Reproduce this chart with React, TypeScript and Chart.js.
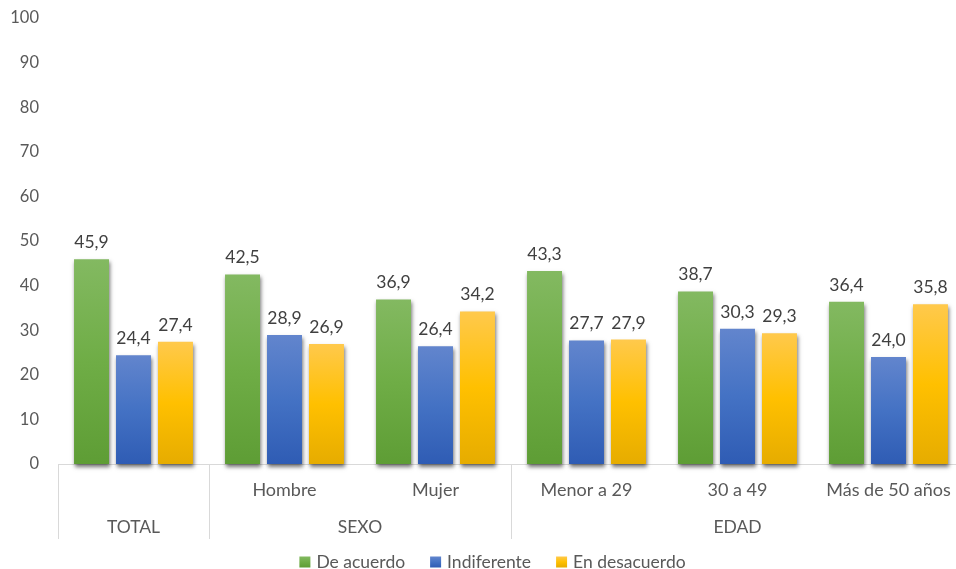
import React, { useEffect, useRef } from "react";
import { Chart, registerables } from "chart.js";

Chart.register(...registerables);

const categories = ["", "Hombre", "Mujer", "Menor a 29", "30 a 49", "Más de 50 años"];
const groups = [
  { label: "TOTAL", start: 0, end: 0 },
  { label: "SEXO", start: 1, end: 2 },
  { label: "EDAD", start: 3, end: 5 },
];
const seriesNames = ["De acuerdo", "Indiferente", "En desacuerdo"];
const deAcuerdo = [45.9, 42.5, 36.9, 43.3, 38.7, 36.4];
const indiferente = [24.4, 28.9, 26.4, 27.7, 30.3, 24.0];
const enDesacuerdo = [27.4, 26.9, 34.2, 27.9, 29.3, 35.8];

const gradientStops = [
  ["#83b961", "#6fad46", "#5e9d35"],
  ["#6285cd", "#4472c4", "#2f5cb4"],
  ["#ffc94c", "#ffc000", "#e6ac00"],
];

const FONT = "Lato, 'Open Sans', sans-serif";
const LIGHT = "#d9d9d9";

function makeGradient(ctx: CanvasRenderingContext2D, top: number, bottom: number, idx: number) {
  const g = ctx.createLinearGradient(0, top, 0, bottom);
  const s = gradientStops[idx];
  g.addColorStop(0, s[0]);
  g.addColorStop(0.5, s[1]);
  g.addColorStop(1, s[2]);
  return g;
}

const shadowPlugin = {
  id: "barShadow",
  beforeDatasetDraw(chart: any) {
    const ctx = chart.ctx;
    ctx.save();
    ctx.shadowColor = "rgba(0,0,0,0.55)";
    ctx.shadowBlur = 4;
    ctx.shadowOffsetX = 1;
    ctx.shadowOffsetY = 3;
  },
  afterDatasetDraw(chart: any) {
    chart.ctx.restore();
  },
};

const labelsPlugin = {
  id: "extras",
  afterDatasetsDraw(chart: any) {
    const ctx = chart.ctx;
    ctx.save();
    ctx.font = `17.5px ${FONT}`;
    ctx.fillStyle = "#404040";
    ctx.textAlign = "center";
    ctx.textBaseline = "alphabetic";
    chart.data.datasets.forEach((ds: any, i: number) => {
      const meta = chart.getDatasetMeta(i);
      meta.data.forEach((bar: any, j: number) => {
        const v = ds.data[j];
        ctx.fillText(v.toFixed(1).replace(".", ","), bar.x, bar.y - 11);
      });
    });
    ctx.restore();
  },
  afterDraw(chart: any) {
    const ctx = chart.ctx;
    const xs = chart.scales.x;
    const area = chart.chartArea;
    const n = categories.length;
    const w = (area.right - area.left) / n;
    ctx.save();
    ctx.strokeStyle = LIGHT;
    ctx.lineWidth = 1;
    const bounds = [0, ...groups.map((g) => g.end + 1)];
    bounds.forEach((b) => {
      const x = Math.round(area.left + b * w) + 0.5;
      ctx.beginPath();
      ctx.moveTo(x, area.bottom);
      ctx.lineTo(x, area.bottom + 75);
      ctx.stroke();
    });
    ctx.font = `17.5px ${FONT}`;
    ctx.fillStyle = "#595959";
    ctx.textAlign = "center";
    ctx.textBaseline = "middle";
    groups.forEach((g) => {
      const cx = (xs.getPixelForValue(g.start) + xs.getPixelForValue(g.end)) / 2;
      ctx.fillText(g.label, cx, area.bottom + 63);
    });
    ctx.font = `17.5px ${FONT}`;
    const box = 11;
    const gapText = 6;
    const gapItem = 25;
    const widths = seriesNames.map((s) => ctx.measureText(s).width);
    const total = widths.reduce((a, b) => a + b, 0) + seriesNames.length * (box + gapText) + (seriesNames.length - 1) * gapItem;
    let x = chart.width / 2 - total / 2;
    const cy = 562;
    ctx.textAlign = "left";
    seriesNames.forEach((s, i) => {
      ctx.fillStyle = makeGradient(ctx, cy - 5.5, cy + 5.5, i);
      ctx.fillRect(x, cy - 5.5, box, box);
      x += box + gapText;
      ctx.fillStyle = "#595959";
      ctx.fillText(s, x, cy);
      x += widths[i] + gapItem;
    });
    ctx.restore();
  },
};

export default function App() {
  const ref = useRef<HTMLCanvasElement | null>(null);
  useEffect(() => {
    if (!ref.current) return;
    const values = [deAcuerdo, indiferente, enDesacuerdo];
    const chart = new Chart(ref.current, {
      type: "bar",
      data: {
        labels: categories,
        datasets: seriesNames.map((name, i) => ({
          label: name,
          data: values[i],
          clip: false as any,
          backgroundColor: (c: any) => {
            const ch = c.chart;
            if (!ch.chartArea || c.dataIndex === undefined) return gradientStops[i][1];
            const ys = ch.scales.y;
            const v = values[i][c.dataIndex];
            return makeGradient(ch.ctx, ys.getPixelForValue(v), ys.getPixelForValue(0), i);
          },
          barPercentage: 0.833,
          categoryPercentage: 0.834,
        })),
      },
      options: {
        responsive: false,
        animation: false,
        devicePixelRatio: 1,
        layout: { padding: { top: 18, right: 21, bottom: 0, left: 0 } },
        plugins: { legend: { display: false }, tooltip: { enabled: false } },
        scales: {
          x: {
            grid: { display: false, drawTicks: false },
            border: { display: true, color: LIGHT, width: 1 },
            ticks: { color: "#595959", font: { family: FONT, size: 18 }, padding: 15, maxRotation: 0, autoSkip: false },
            afterFit: (s: any) => {
              s.height = 105;
            },
          },
          y: {
            min: 0,
            max: 100,
            grid: { display: false, drawTicks: false },
            border: { display: false },
            ticks: { stepSize: 10, color: "#595959", font: { family: FONT, size: 16.5 }, padding: 19 },
            afterFit: (s: any) => {
              s.width = 58;
              s.paddingTop = 0;
              s.paddingBottom = 0;
            },
          },
        },
      },
      plugins: [shadowPlugin, labelsPlugin],
    });
    return () => chart.destroy();
  }, []);
  return (
    <div style={{ position: "fixed", left: 0, top: 0, width: 956, height: 569, overflow: "hidden", background: "#fff" }}>
      <canvas ref={ref} width={985} height={569} style={{ display: "block", width: 985, height: 569 }} />
    </div>
  );
}
